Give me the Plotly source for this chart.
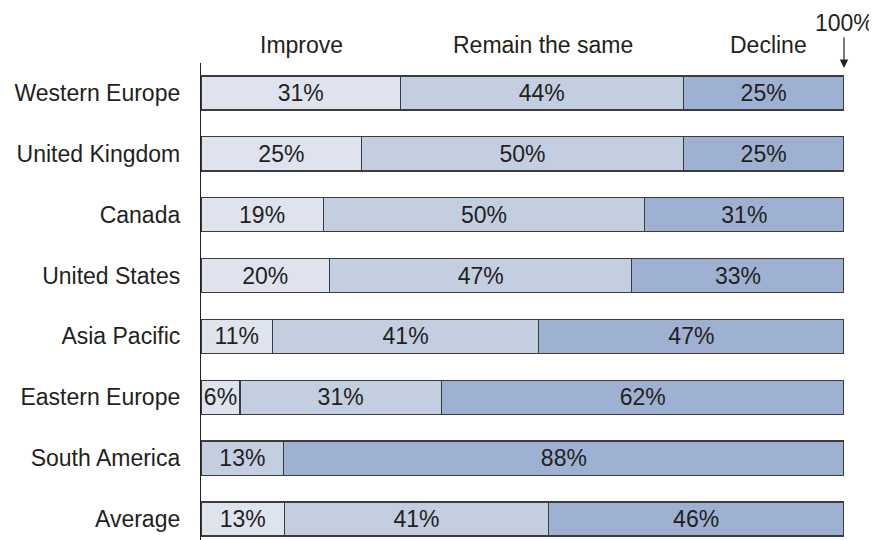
import plotly.graph_objects as go

regions = ["Western Europe", "United Kingdom", "Canada", "United States",
           "Asia Pacific", "Eastern Europe", "South America", "Average"]
improve = [31, 25, 19, 20, 11, 6, None, 13]
remain = [44, 50, 50, 47, 41, 31, 13, 41]
decline = [25, 25, 31, 33, 47, 62, 88, 46]

FONT = "Liberation Sans, Arial, sans-serif"
INK = "#231f20"
EDGE = "#3c3c3c"

fig = go.Figure()
for name, vals, color in [("Improve", improve, "#dfe3ee"),
                          ("Remain the same", remain, "#c4cee1"),
                          ("Decline", decline, "#9fb1d2")]:
    fig.add_trace(go.Bar(
        y=regions, x=vals, orientation="h", name=name,
        marker=dict(color=color, line=dict(color=EDGE, width=1.3)),
        text=["" if v is None else f"{v}%" for v in vals],
        textposition="inside", insidetextanchor="middle", textangle=0,
        constraintext="none",
        textfont=dict(family=FONT, size=23, color=INK),
        width=0.56, hoverinfo="skip", showlegend=False,
    ))

# Spaltenköpfe
for txt, xpos in [("Improve", 15.7), ("Remain the same", 53.2), ("Decline", 88.2)]:
    fig.add_annotation(x=xpos, xref="x", y=1.038, yref="paper", text=txt,
                       showarrow=False, yanchor="middle",
                       font=dict(family=FONT, size=23, color=INK))

fig.add_annotation(x=100, xref="x", y=0.9895, yref="paper", text="100%",
                   showarrow=True, ax=0, ay=-45, arrowhead=2, arrowsize=1.4,
                   arrowwidth=1.2, arrowcolor=INK,
                   font=dict(family=FONT, size=23, color=INK))

# Seite hat 8px body-margin -> Figur entsprechend kleiner
fig.update_layout(
    barmode="stack", barnorm="percent",
    width=869, height=532,
    margin=dict(l=193, r=33, t=55, b=0),
    plot_bgcolor="white", paper_bgcolor="white",
    font=dict(family=FONT, size=23, color=INK),
)
fig.update_xaxes(range=[0, 100], visible=False, showgrid=False, zeroline=False)
fig.update_yaxes(range=[7.345, -0.493], showline=True, linecolor=INK, linewidth=1.3,
                 ticks="", ticklabelstandoff=15, showgrid=False, zeroline=False,
                 tickfont=dict(family=FONT, size=23, color=INK))

fig.write_html("out.html")
